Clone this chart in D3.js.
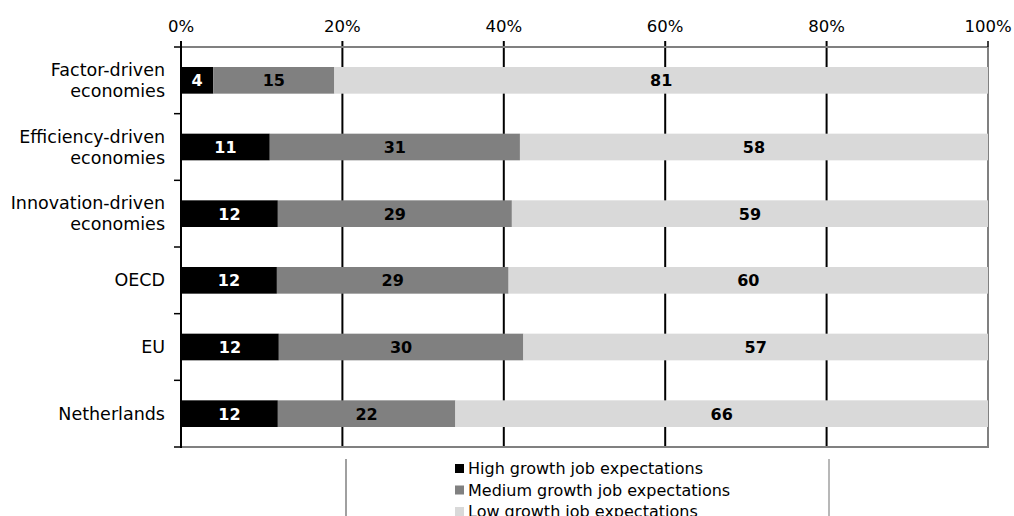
<!DOCTYPE html>
<html><head><meta charset="utf-8">
<script src="https://cdn.jsdelivr.net/npm/d3@7"></script>
<style>
html,body{margin:0;padding:0;background:#fff;}
svg text{font-family:"DejaVu Sans",Verdana,sans-serif;}
</style></head>
<body><svg id="c" width="1014" height="516"></svg>
<script>
const categories = [["Factor-driven","economies"],["Efficiency-driven","economies"],["Innovation-driven","economies"],["OECD"],["EU"],["Netherlands"]];
const seriesNames = ["High growth job expectations","Medium growth job expectations","Low growth job expectations"];
const high = [4, 11, 12, 12, 12, 12];
const medium = [15, 31, 29, 29, 30, 22];
const low = [81, 58, 59, 60, 57, 66];
const tickValues = [0, 20, 40, 60, 80, 100];
const colors = ["#000000", "#808080", "#d9d9d9"];
const labelColors = ["#ffffff", "#000000", "#000000"];

const svg = d3.select("#c");
const keys = categories.map(c => c.join(" "));
const x = d3.scaleLinear().domain([0, 100]).range([181, 988]);
const y = d3.scaleBand().domain(keys).range([47, 447]).paddingInner(0.6).paddingOuter(0.3);

// gridlines
svg.append("g").selectAll("line").data(tickValues.filter(v => v > 0 && v < 100)).join("line")
  .attr("x1", d => x(d)).attr("x2", d => x(d)).attr("y1", 41).attr("y2", 447)
  .attr("stroke", "#000").attr("stroke-width", 2);
// frame top / right / bottom gray
svg.append("line").attr("x1", x(0)).attr("x2", x(100)).attr("y1", 47).attr("y2", 47).attr("stroke", "#808080").attr("stroke-width", 2);
svg.append("line").attr("x1", x(100)).attr("x2", x(100)).attr("y1", 47).attr("y2", 448).attr("stroke", "#808080").attr("stroke-width", 2);
svg.append("line").attr("x1", x(0)).attr("x2", x(100)+1).attr("y1", 447).attr("y2", 447).attr("stroke", "#808080").attr("stroke-width", 2);
svg.append("line").attr("x1", x(100)).attr("x2", x(100)).attr("y1", 41).attr("y2", 47).attr("stroke", "#000").attr("stroke-width", 1.5);

// stacked data (normalized to 100%)
const rows = keys.map((k, i) => ({key: k, vals: [high[i], medium[i], low[i]]}));
rows.forEach(r => {
  const tot = d3.sum(r.vals);
  let acc = 0;
  r.segs = r.vals.map((v, j) => { const s = {j, v, x0: acc / tot * 100, x1: (acc + v) / tot * 100}; acc += v; return s; });
});
const g = svg.append("g").selectAll("g").data(rows).join("g");
g.selectAll("rect").data(r => r.segs.map(s => Object.assign({key: r.key}, s))).join("rect")
  .attr("x", d => x(d.x0)).attr("width", d => x(d.x1) - x(d.x0))
  .attr("y", d => y(d.key)).attr("height", y.bandwidth())
  .attr("fill", d => colors[d.j]);
g.selectAll("text").data(r => r.segs.map(s => Object.assign({key: r.key}, s))).join("text")
  .attr("x", d => (x(d.x0) + x(d.x1)) / 2).attr("y", d => y(d.key) + y.bandwidth() / 2 + 6)
  .attr("text-anchor", "middle").attr("font-size", 16).attr("font-weight", "bold")
  .attr("fill", d => labelColors[d.j]).text(d => d.v);

// top axis labels
svg.append("g").selectAll("text").data(tickValues).join("text")
  .attr("x", d => x(d)).attr("y", 32).attr("text-anchor", "middle").attr("font-size", 16.5)
  .text(d => d + "%");

// left axis
svg.append("line").attr("x1", x(0)).attr("x2", x(0)).attr("y1", 41).attr("y2", 448).attr("stroke", "#000").attr("stroke-width", 2);
const bounds = d3.range(keys.length + 1).map(i => 47 + i * (400 / keys.length));
svg.append("g").selectAll("line").data(bounds).join("line")
  .attr("x1", x(0) - 7).attr("x2", x(0)).attr("y1", d => d).attr("y2", d => d)
  .attr("stroke", "#000").attr("stroke-width", 1.5);

// category labels
const cl = svg.append("g").selectAll("text").data(categories).join("text")
  .attr("text-anchor", "end").attr("font-size", 17.5)
  .attr("transform", (c, i) => `translate(165,${y(keys[i]) + y.bandwidth() / 2})`);
cl.selectAll("tspan").data(c => c.map((t, k) => ({t, k, n: c.length}))).join("tspan")
  .attr("x", 0).attr("y", d => (d.k - (d.n - 1) / 2) * 21 + 6).text(d => d.t);

// legend
svg.append("line").attr("x1", 346).attr("x2", 346).attr("y1", 459).attr("y2", 516).attr("stroke", "#808080").attr("stroke-width", 1.5);
svg.append("line").attr("x1", 829).attr("x2", 829).attr("y1", 459).attr("y2", 516).attr("stroke", "#a0a0a0").attr("stroke-width", 1.5);
const lg = svg.append("g").selectAll("g").data(seriesNames).join("g")
  .attr("transform", (d, i) => `translate(455,${468 + i * 21.5})`);
lg.append("rect").attr("x", 0).attr("y", -4).attr("width", 9).attr("height", 9).attr("fill", (d, i) => colors[i]);
lg.append("text").attr("x", 13).attr("y", 6).attr("font-size", 16).text(d => d);
</script></body></html>
